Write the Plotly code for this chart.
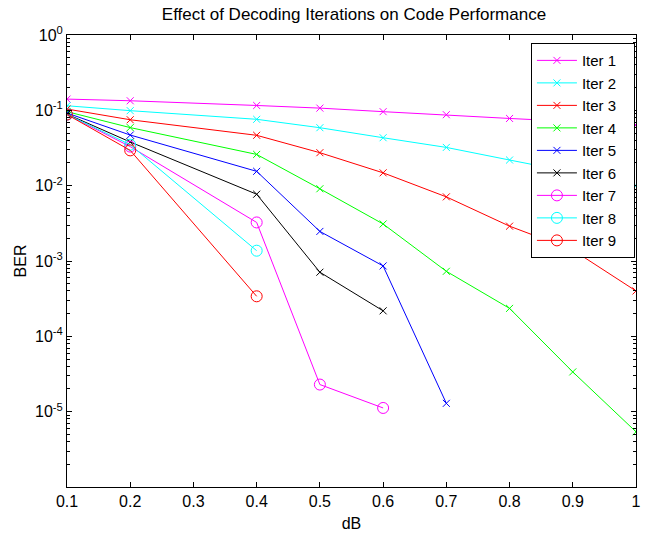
import plotly.graph_objects as go

db = [0.1, 0.2, 0.4, 0.5, 0.6, 0.7, 0.8, 0.9, 1.0]

iter1 = [0.141, 0.134, 0.116, 0.107, 0.096, 0.0875, 0.078, 0.071, 0.0638]
iter2 = [0.115, 0.099, 0.076, 0.0588, 0.0433, 0.0322, 0.0219, 0.015, 0.010]
iter3 = [0.104, 0.075, 0.0466, 0.0274, 0.0148, 0.0071, 0.0029, 0.0014, 0.0004]
iter4 = [0.096, 0.059, 0.026, 0.0091, 0.0031, 0.00073, 0.000235, 0.0000337, 0.0000054]
iter5 = [0.092, 0.047, 0.0155, 0.00247, 0.00086, 0.0000129]
iter6 = [0.089, 0.038, 0.0077, 0.00071, 0.000218]
iter7 = [0.088, 0.033, 0.00325, 0.0000229, 0.0000112]
iter8 = [0.088, 0.035, 0.00137]
iter9 = [0.088, 0.0294, 0.00034]

names = ["Iter 1", "Iter 2", "Iter 3", "Iter 4", "Iter 5", "Iter 6", "Iter 7", "Iter 8", "Iter 9"]
series = [iter1, iter2, iter3, iter4, iter5, iter6, iter7, iter8, iter9]
colors = ["#FF00FF", "#00FFFF", "#FF0000", "#00FF00", "#0000FF", "#000000",
          "#FF00FF", "#00FFFF", "#FF0000"]
symbols = ["x-thin"] * 6 + ["circle-open"] * 3

ytick_vals = [1, 0.1, 0.01, 0.001, 0.0001, 0.00001]
ytick_text = ["10<sup>0</sup>", "10<sup>-1</sup>", "10<sup>-2</sup>",
              "10<sup>-3</sup>", "10<sup>-4</sup>", "10<sup>-5</sup>"]
minor_vals = [k * 10.0 ** e for e in range(-6, 0) for k in range(2, 10)]

fig = go.Figure()
for name, ys, c, s in zip(names, series, colors, symbols):
    is_circle = s == "circle-open"
    fig.add_trace(go.Scatter(
        x=db[:len(ys)], y=ys, name=name + "\u00a0\u00a0\u00a0", mode="lines+markers",
        line=dict(color=c, width=1),
        marker=dict(symbol=s, size=11 if is_circle else 7,
                    color=c, line=dict(color=c, width=1)),
    ))

font = "Liberation Sans, Arial, sans-serif"
fig.update_layout(
    width=646, height=535,
    margin=dict(l=67, r=5, t=35, b=48),
    paper_bgcolor="white", plot_bgcolor="white",
    font=dict(family=font, size=16, color="black"),
    title=dict(text="Effect of Decoding Iterations on Code Performance",
               x=(67 + 641) / 2 / 646, xanchor="center",
               y=1 - 14 / 535, yanchor="middle", yref="container",
               font=dict(size=17, family=font, color="black")),
    legend=dict(x=(535 - 67) / 574, xanchor="left", y=0.982, yanchor="top",
                bgcolor="white", bordercolor="black", borderwidth=1,
                itemwidth=40,
                font=dict(size=15, family=font), tracegroupgap=0),
    showlegend=True,
)
fig.update_xaxes(
    range=[0.1, 1.0], dtick=0.1, tick0=0.1,
    ticks="inside", ticklen=5, tickcolor="black",
    showline=True, linecolor="black", linewidth=1, mirror="ticks",
    showgrid=False, zeroline=False,
    title=dict(text="dB", standoff=8, font=dict(size=16)),
    tickfont=dict(size=16),
)
fig.update_yaxes(
    type="log", range=[-6, 0],
    tickmode="array", tickvals=ytick_vals, ticktext=ytick_text,
    ticks="inside", ticklen=5, tickcolor="black",
    minor=dict(tickmode="array", tickvals=minor_vals, ticks="inside",
               ticklen=3, tickcolor="black", showgrid=False),
    showline=True, linecolor="black", linewidth=1, mirror="ticks",
    showgrid=False, zeroline=False,
    title=dict(text="BER", standoff=4, font=dict(size=16)),
    tickfont=dict(size=16),
)

fig.write_html("out.html")
